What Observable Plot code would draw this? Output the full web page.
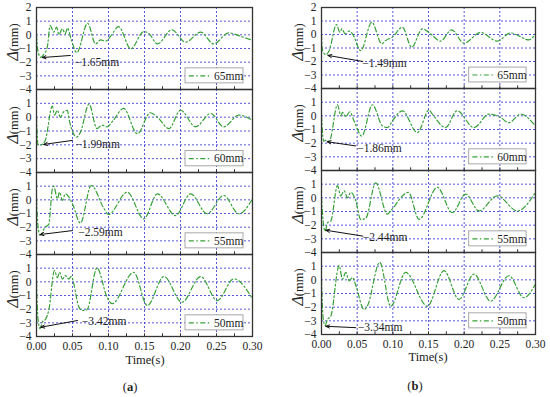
<!DOCTYPE html>
<html>
<head>
<meta charset="utf-8">
<script src="https://cdn.jsdelivr.net/npm/d3@7"></script>
<script src="https://cdn.jsdelivr.net/npm/@observablehq/plot@0.6"></script>
<style>
  html, body { margin: 0; padding: 0; background: #fff; }
  #root { position: relative; width: 550px; height: 397px; background: #fff; overflow: hidden;
          font-family: "Liberation Serif", "Times New Roman", serif; color: #222; }
  #root svg { position: absolute; overflow: visible; }
  .lab { position: absolute; white-space: nowrap; transform: translate(-50%, -50%); }
  .ylab { position: absolute; white-space: nowrap; transform: translate(-50%, -50%) rotate(-90deg); font-size: 12.5px; }
  .ylab i { font-size: 16px; }
</style>
</head>
<body>
<div id="root"></div>
<script>
// ---------- data ----------
const seriesNames = ["65mm", "60mm", "55mm", "50mm"];

// column (a)
const tA65 = [0, 0.002, 0.006, 0.010, 0.015, 0.019, 0.024, 0.028, 0.031, 0.036, 0.040, 0.043, 0.048, 0.056, 0.071, 0.082, 0.089, 0.096, 0.103, 0.114, 0.131, 0.149, 0.156, 0.168, 0.188, 0.207, 0.228, 0.246, 0.267, 0.283, 0.300];
const vA65 = [0, -1.2, -1.65, -1.45, -0.9, 0.68, 0.2, 0.56, 0.0, 0.44, 0.07, 0.5, -0.3, -1.3, 0.85, -0.66, -0.37, -0.46, -0.1, 0.6, -1.02, 0.24, 0.1, -0.66, 0.37, -0.54, 0.2, -0.66, 0.15, -0.1, -0.41];
const tA60 = [0, 0.002, 0.006, 0.012, 0.022, 0.025, 0.029, 0.033, 0.038, 0.043, 0.045, 0.056, 0.061, 0.073, 0.084, 0.091, 0.098, 0.107, 0.121, 0.140, 0.158, 0.168, 0.184, 0.200, 0.221, 0.242, 0.260, 0.281, 0.300];
const vA60 = [0, -1.98, -1.99, -1.7, 0.8, 0.15, 0.5, 0.0, 0.4, 0.5, -0.1, -1.44, -1.1, 0.95, -0.83, -0.58, -0.7, -0.2, 0.63, -1.2, 0.32, 0.0, -0.83, 0.5, -0.7, 0.27, -0.7, 0.15, -0.22];
const tA55 = [0, 0.002, 0.005, 0.012, 0.017, 0.022, 0.024, 0.029, 0.032, 0.036, 0.040, 0.045, 0.050, 0.061, 0.076, 0.094, 0.100, 0.126, 0.149, 0.168, 0.193, 0.214, 0.237, 0.260, 0.281, 0.300];
const vA55 = [0, -1.9, -2.59, -2.0, -1.8, 0.8, 1.0, 0.07, 0.56, -0.05, 0.44, 0.2, -0.3, -1.7, 1.05, -0.66, -1.07, 0.56, -1.39, 0.44, -1.15, 0.44, -1.02, 0.32, -1.02, 0.07];
const tA50 = [0, 0.002, 0.005, 0.008, 0.013, 0.017, 0.025, 0.029, 0.032, 0.036, 0.040, 0.045, 0.048, 0.059, 0.063, 0.070, 0.084, 0.098, 0.105, 0.135, 0.154, 0.177, 0.202, 0.228, 0.251, 0.274, 0.300];
const vA50 = [0, -2.7, -3.42, -2.95, -2.7, -2.1, 0.83, 0.3, 0.7, 0.2, 0.46, 0.2, 0.4, -1.85, -2.1, -2.05, 1.02, -1.12, -1.6, 0.7, -1.73, 0.39, -1.49, 0.39, -1.37, 0.22, -1.24];

// column (b)
const tB65 = [0, 0.0014, 0.006, 0.0107, 0.021, 0.0257, 0.0285, 0.0331, 0.0387, 0.0434, 0.055, 0.0705, 0.0845, 0.09, 0.0994, 0.1134, 0.1264, 0.1414, 0.153, 0.167, 0.1824, 0.1997, 0.223, 0.2464, 0.265, 0.2907, 0.3];
const vB65 = [0, -1.2, -1.49, -1.2, 0.74, 0.17, 0.42, 0.05, 0.25, 0.05, -1.2, 0.91, -0.69, -0.44, -0.2, 0.54, -0.94, 0.42, 0.05, -0.49, 0.35, -0.64, 0.15, -0.49, 0.12, -0.4, 0.05];
const tB60 = [0, 0.003, 0.006, 0.011, 0.0224, 0.027, 0.0294, 0.034, 0.0397, 0.0457, 0.0565, 0.0714, 0.0854, 0.0924, 0.0994, 0.1134, 0.1344, 0.1507, 0.1554, 0.174, 0.19, 0.2137, 0.2347, 0.251, 0.2627, 0.279, 0.3];
const vB60 = [0, -1.86, -1.8, -1.85, 0.81, 0.0, 0.25, -0.07, 0.3, -0.37, -1.48, 0.81, -0.74, -0.86, -0.37, 0.37, -1.23, 0.42, 0.12, -0.86, 0.37, -0.86, 0.12, -0.12, -0.5, 0.12, -0.74];
const tB55 = [0, 0.0023, 0.0051, 0.0084, 0.013, 0.0224, 0.027, 0.0317, 0.0364, 0.041, 0.048, 0.055, 0.062, 0.076, 0.0924, 0.097, 0.1218, 0.1367, 0.1624, 0.1834, 0.202, 0.2207, 0.2464, 0.2744, 0.3];
const vB55 = [0, -1.7, -2.44, -1.83, -1.7, 0.89, 0.15, 0.52, 0.0, 0.4, -0.2, -1.58, -1.5, 1.1, -1.2, -0.95, 0.4, -1.58, 0.77, -1.09, 0.27, -0.96, 0.15, -0.96, 0.4];
const tB50 = [0, 0.0023, 0.0051, 0.0084, 0.013, 0.0247, 0.0294, 0.034, 0.0387, 0.0434, 0.048, 0.0597, 0.0644, 0.0817, 0.097, 0.118, 0.1484, 0.1717, 0.1927, 0.2137, 0.237, 0.2627, 0.2837, 0.3];
const vB50 = [0, -2.8, -3.34, -2.9, -2.67, 1.04, 0.05, 0.54, -0.07, 0.17, -0.4, -2.17, -1.9, 1.28, -1.93, 0.54, -1.93, 0.67, -1.43, 0.42, -1.56, 0.3, -1.3, -0.3];

// peak annotations: label text, arrow tail (x1,y1) -> head (x2,y2), label anchor (tx,ty)
const peakLabelsA = ["−1.65mm", "−1.99mm", "−2.59mm", "−3.42mm"];
const arrowA = [[0.047, -1.51, 0.008, -1.66], [0.050, -1.68, 0.010, -1.97], [0.050, -2.25, 0.005, -2.54], [0.057, -2.83, 0.006, -3.32]];
const labelPosA = [[0.053, -2.0], [0.054, -1.97], [0.058, -2.4], [0.063, -2.88]];
const peakLabelsB = ["−1.49mm", "−1.86mm", "−2.44mm", "−3.34mm"];
const arrowB = [[0.058, -2.0, 0.009, -1.55], [0.048, -2.2, 0.008, -1.9], [0.058, -2.8, 0.006, -2.37], [0.048, -3.5, 0.006, -3.4]];
const labelPosB = [[0.057, -2.1], [0.050, -2.4], [0.058, -2.87], [0.051, -3.5]];

const xTickLabels = [0, 0.05, 0.10, 0.15, 0.20, 0.25, 0.30];
const xMinorTicks = [0.025, 0.05, 0.075, 0.10, 0.125, 0.15, 0.175, 0.20, 0.225, 0.25, 0.275];
const xGrid = [0.05, 0.10, 0.15, 0.20, 0.25];
const yGrid = [-3, -2, -1, 0, 1];
const yTicksTop = [-4, -3, -2, -1, 0, 1, 2];
const yTicksOther = [-4, -3, -2, -1, 0, 1];

// ---------- layout ----------
const root = document.getElementById("root");
const GREEN = "#36a036";
const BLUE = "#4545d6";
const DASH = "5,2.5,1.5,2.5";
const fmtY = d => d < 0 ? "−" + Math.abs(d) : String(d);

const columns = [
  {left: 0, width: 275, plotL: 36, plotR: 252, tops: [7, 89, 172, 254, 336],
   t: [tA65, tA60, tA55, tA50], v: [vA65, vA60, vA55, vA50],
   peaks: peakLabelsA, arrows: arrowA, lpos: labelPosA, ylabX: 12.5, letter: "a", letterX: 130, letterY: 387, timeX: 145, timeY: 360},
  {left: 275, width: 275, plotL: 321, plotR: 535, tops: [7, 88, 170, 252, 334],
   t: [tB65, tB60, tB55, tB50], v: [vB65, vB60, vB55, vB50],
   peaks: peakLabelsB, arrows: arrowB, lpos: labelPosB, ylabX: 297.5, letter: "b", letterX: 415, letterY: 386, timeX: 428, timeY: 357}
];

for (const col of columns) {
  for (let i = 0; i < 4; i++) {
    const top = col.tops[i], bottom = col.tops[i + 1];
    const last = i === 3, first = i === 0;
    const mt = 10, mb = last ? 20 : 10;
    const data = col.t[i].map((t, k) => ({t, v: col.v[i][k]}));
    const a = col.arrows[i];
    const svg = Plot.plot({
      width: col.width,
      height: (bottom - top) + mt + mb,
      marginLeft: col.plotL - col.left,
      marginRight: col.left + col.width - col.plotR,
      marginTop: mt,
      marginBottom: mb,
      style: {fontFamily: "'Liberation Serif', serif", fontSize: "11.5px", color: "#222", background: "transparent", overflow: "visible"},
      x: {domain: [0, 0.3], axis: last ? "bottom" : null, ticks: xTickLabels, tickSize: 0, tickPadding: 5,
          tickFormat: d => d.toFixed(2), label: null},
      y: {domain: [-4, 2], ticks: first ? yTicksTop : yTicksOther, tickSize: 0, tickPadding: 5,
          tickFormat: fmtY, label: null},
      marks: [
        Plot.ruleY(yGrid, {stroke: BLUE, strokeWidth: 0.9, strokeDasharray: "2,2"}),
        Plot.ruleX(xGrid, {stroke: BLUE, strokeWidth: 0.9, strokeDasharray: "2,2"}),
        Plot.ruleX(xMinorTicks, {y1: -4, y2: -3.8, stroke: "#333", strokeWidth: 1}),
        Plot.line(data, {x: "t", y: "v", stroke: GREEN, strokeWidth: 1.2, strokeDasharray: DASH, curve: "monotone-x"}),
        Plot.rect([{x1: 0.207, x2: 0.2875, y1: -2.45, y2: -3.55}], {x1: "x1", x2: "x2", y1: "y1", y2: "y2", fill: "white", stroke: "#a8a8a8", strokeWidth: 1}),
        Plot.link([{x1: 0.2115, x2: 0.243, y: -3}], {x1: "x1", x2: "x2", y1: "y", y2: "y", stroke: GREEN, strokeWidth: 1.2, strokeDasharray: DASH}),
        Plot.text([{x: 0.2465, y: -3, s: seriesNames[i]}], {x: "x", y: "y", text: "s", textAnchor: "start", fontSize: 11.5, fill: "#222"}),
        Plot.arrow([{x1: a[0], y1: a[1], x2: a[2], y2: a[3]}], {x1: "x1", y1: "y1", x2: "x2", y2: "y2", stroke: "#111", strokeWidth: 1, headLength: 6, headAngle: 45}),
        Plot.text([{x: col.lpos[i][0], y: col.lpos[i][1], s: col.peaks[i]}], {x: "x", y: "y", text: "s", textAnchor: "start", fontSize: 11.5, fill: "#222"}),
        Plot.frame({stroke: "#333", strokeWidth: 1.3})
      ]
    });
    svg.style.left = col.left + "px";
    svg.style.top = (top - mt) + "px";
    root.appendChild(svg);

    const yl = document.createElement("div");
    yl.className = "ylab";
    yl.innerHTML = "<i>Δ</i>(mm)";
    yl.style.left = col.ylabX + "px";
    yl.style.top = ((top + bottom) / 2 - 6) + "px";
    root.appendChild(yl);
  }
  const tl = document.createElement("div");
  tl.className = "lab";
  tl.style.fontSize = "12.5px";
  tl.textContent = "Time(s)";
  tl.style.left = col.timeX + "px";
  tl.style.top = col.timeY + "px";
  root.appendChild(tl);

  const lt = document.createElement("div");
  lt.className = "lab";
  lt.style.fontSize = "12.5px";
  lt.innerHTML = "(<b>" + col.letter + "</b>)";
  lt.style.left = col.letterX + "px";
  lt.style.top = col.letterY + "px";
  root.appendChild(lt);
}
</script>
</body>
</html>
